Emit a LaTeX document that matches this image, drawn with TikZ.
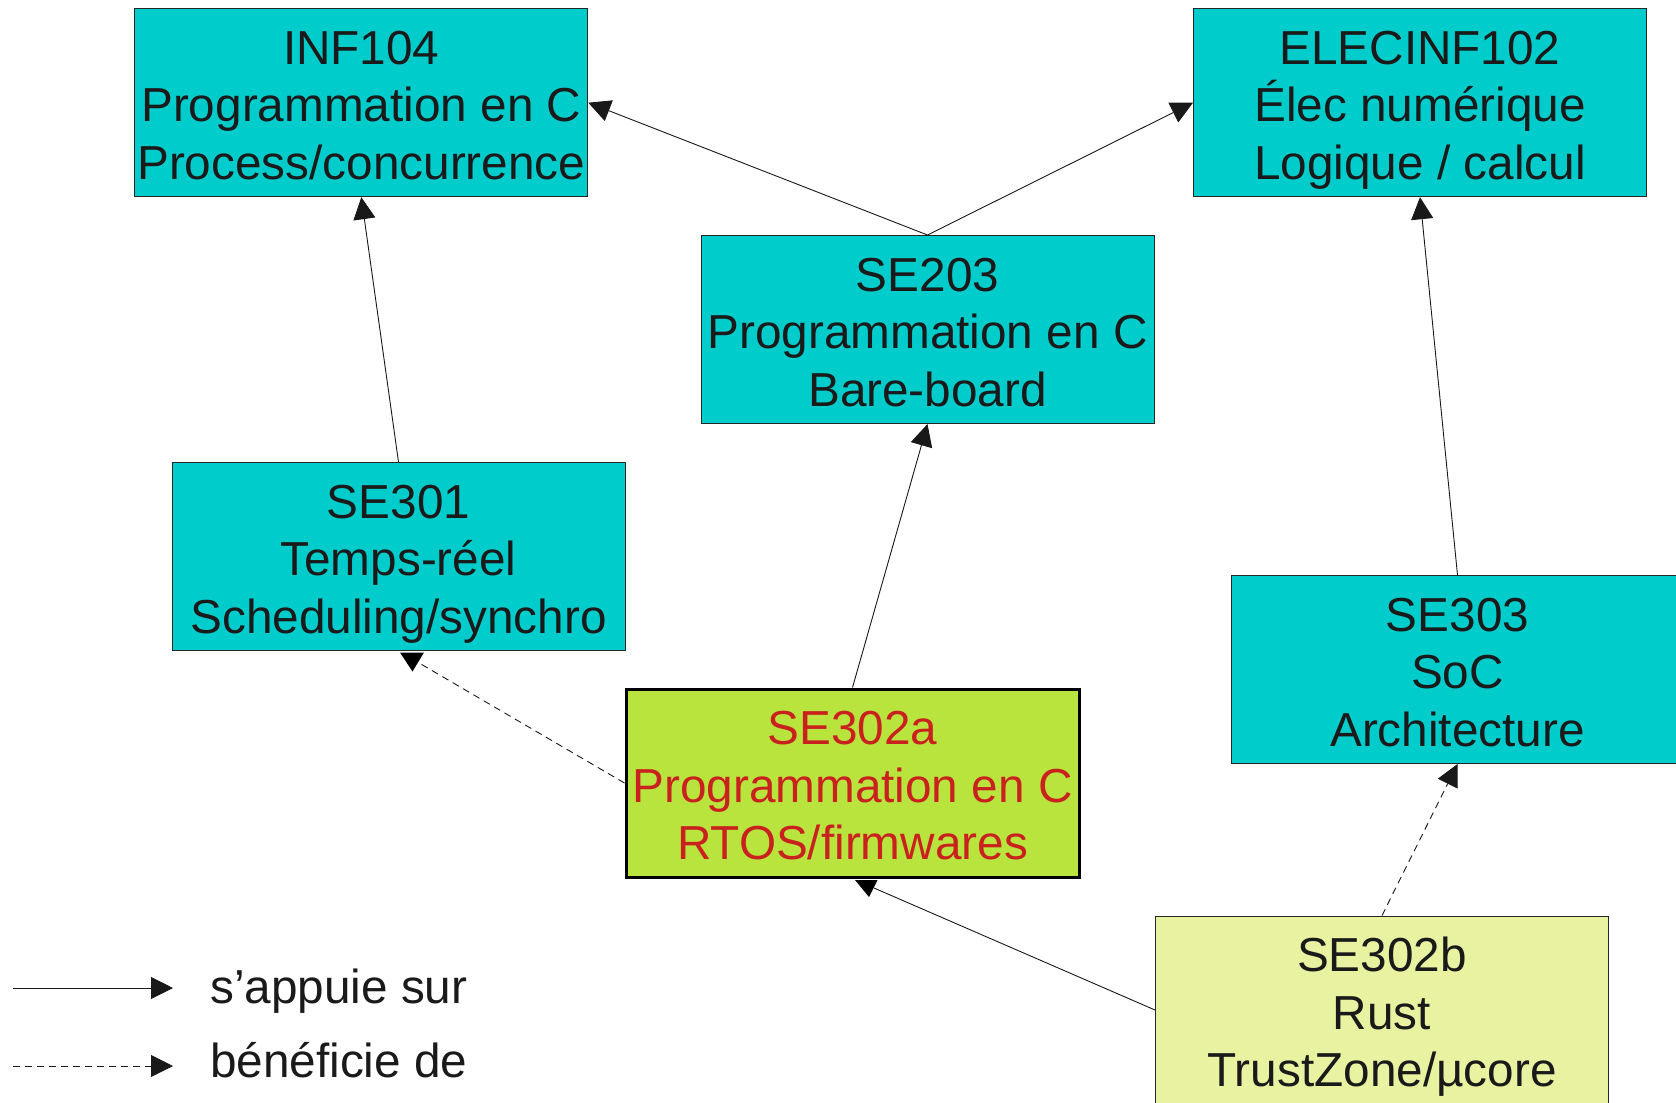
\documentclass[tikz,border=0pt]{standalone}
\usepackage{fontspec}
\setmainfont{Liberation Sans}
\usetikzlibrary{arrows.meta}
\definecolor{cyanbox}{RGB}{0,204,204}
\definecolor{limebox}{RGB}{185,227,61}
\definecolor{paleyel}{RGB}{232,242,161}
\definecolor{redtext}{RGB}{201,33,30}
\definecolor{txt}{RGB}{26,26,26}
\newcommand\mytopstrut{\rule{0pt}{50.4pt}}
\newcommand\mybotstrut{\rule[-12pt]{0pt}{12pt}}
\begin{document}
\begin{tikzpicture}[x=1pt,y=-1pt,
  box/.style={draw=black!85, line width=1pt, fill=cyanbox, minimum width=453pt, minimum height=188pt, inner sep=0pt, align=center, font=\fontsize{47.7pt}{57.7pt}\selectfont, text=txt},
  link/.style={line width=0.9pt, draw=black!90},
  dep/.style={link, -{Triangle[length=22pt,width=22pt]}},
  ben/.style={dep, dash pattern=on 7pt off 5pt},
  head/.style={fill=black},
  legtext/.style={anchor=base west, inner sep=0pt, font=\fontsize{47.7pt}{57.7pt}\selectfont, text=txt}]
\useasboundingbox (0,0) rectangle (1676,1103);
\fill[white] (0,0) rectangle (1676,1103);

\node[box] (INF104) at (361.3,102.7) {\mytopstrut INF104\\Programmation en C\\Process/concurrence\mybotstrut};
\node[box] (ELEC) at (1420,102.7) {\mytopstrut ELECINF102\\Élec numérique\\Logique / calcul\mybotstrut};
\node[box] (SE203) at (927.5,329.5) {\mytopstrut SE203\\Programmation en C\\Bare-board\mybotstrut};
\node[box] (SE301) at (398.5,556.5) {\mytopstrut SE301\\Temps-réel\\Scheduling/synchro\mybotstrut};
\node[box] (SE303) at (1457.5,669.5) {\mytopstrut SE303\\SoC\\Architecture\mybotstrut};
\node[box, fill=limebox, line width=3pt, draw=black, text=redtext] (SE302a) at (852.5,783) {\mytopstrut SE302a\\Programmation en C\\RTOS/firmwares\mybotstrut};
\node[box, fill=paleyel] (SE302b) at (1382,1010) {\mytopstrut SE302b\\Rust\\TrustZone/µcore\mybotstrut};

\draw[dep] (SE203.north) -- (INF104.east);
\draw[dep] (SE203.north) -- (ELEC.west);
\draw[dep] (SE301.north) -- (INF104.south);
\draw[dep] (SE302a.north) -- (SE203.south);
\draw[dep] (SE303.north) -- (ELEC.south);
\draw[ben] (SE302b.north) -- (SE303.south);

% connectors whose heads sit as downward triangles under the box
\coordinate (h1) at (420,663.5);
\draw[link, dash pattern=on 7pt off 5pt] (SE302a.west) -- (h1);
\fill[head] (400,652.5) -- (424,652.5) -- (412.5,671.5) -- cycle;
\coordinate (h2) at (874,888);
\draw[link] (SE302b.west) -- (h2);
\fill[head] (855,880) -- (877.5,880) -- (869,897) -- cycle;

\coordinate (l1a) at (13,988);
\coordinate (l1b) at (173,988);
\coordinate (l2a) at (13,1066);
\coordinate (l2b) at (173,1066);
\draw[dep] (l1a) -- (l1b);
\draw[ben] (l2a) -- (l2b);
\node[legtext] (t1) at (210,1003) {s’appuie sur};
\node[legtext] (t2) at (210,1077) {bénéficie de};
\end{tikzpicture}
\end{document}
